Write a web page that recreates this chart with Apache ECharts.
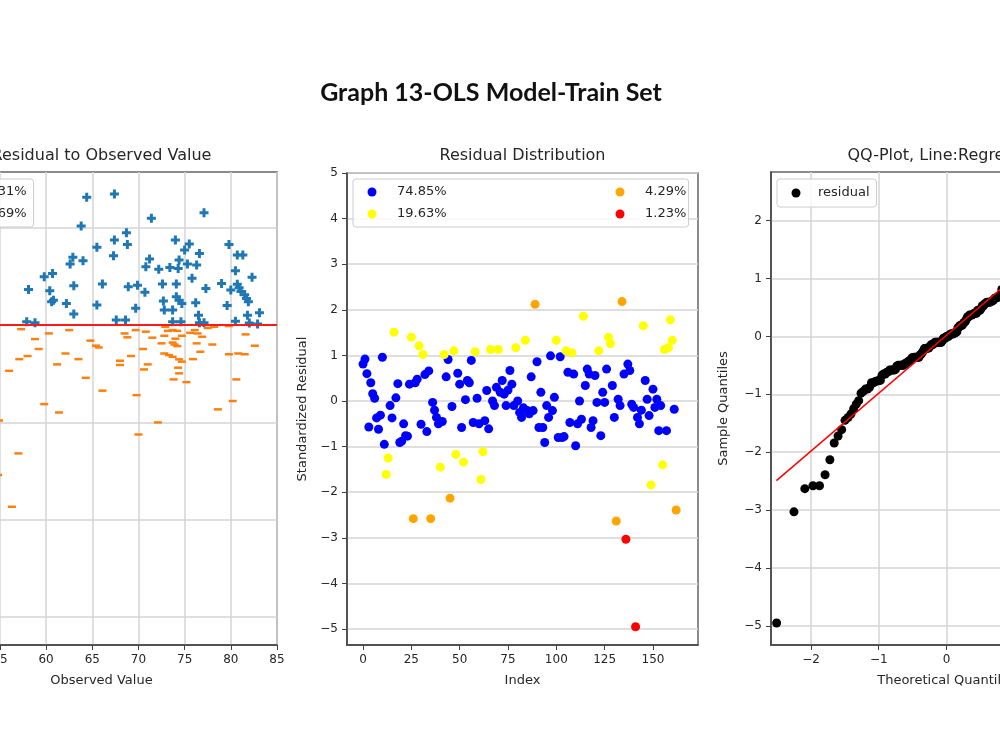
<!DOCTYPE html>
<html>
<head>
<meta charset="utf-8">
<title>Graph 13-OLS Model-Train Set</title>
<script src="https://cdn.jsdelivr.net/npm/echarts@6/dist/echarts.min.js"></script>
<style>
  html, body { margin: 0; padding: 0; width: 1000px; height: 750px; overflow: hidden; background: #fff; }
  /* the source picture is a crop: the outer panels run past both page edges */
  #chart { position: absolute; left: -150px; top: 0; width: 1300px; height: 750px; }
</style>
</head>
<body>
<div id="chart"></div>
<script>
// ---- left panel: residual vs observed value ----
const obsPos = [64.4, 67.4, 71.4, 77.1, 63.8, 68.7, 67.4, 68.8, 65.5, 67.3,
  62.9, 62.6, 64.0, 74.0, 75.5, 75.0, 76.6, 71.2, 70.8, 72.2,
  73.4, 74.4, 74.3, 75.3, 76.3, 79.8, 80.7, 81.3, 80.5, 82.3,
  58.1, 59.8, 60.7, 60.4, 60.6, 60.8, 63.0, 66.1, 68.9, 69.9,
  70.7, 72.6, 74.1, 77.3, 79.0, 80.0, 80.7, 80.9, 81.1, 81.5,
  81.7, 81.9, 62.2, 63.0, 65.5, 69.7, 72.7, 72.8, 73.7, 74.1,
  74.4, 74.7, 76.2, 76.5, 81.8, 83.1, 67.6, 68.6, 57.9, 58.8,
  73.7, 74.6, 76.6, 77.1, 80.5, 82.0, 82.9, 52.5, 50.8, 53.6,
  75.8, 79.6];
const residPos = [6.56, 6.73, 5.48, 5.77, 5.09, 4.74, 4.37, 4.14, 3.99, 3.56,
  3.48, 3.13, 3.30, 4.37, 4.16, 3.85, 3.68, 3.39, 3.00, 2.86,
  2.96, 3.34, 2.91, 3.13, 3.08, 4.14, 3.60, 3.60, 2.79, 2.45,
  1.83, 2.48, 2.65, 1.76, 1.20, 1.28, 2.02, 2.11, 1.97, 2.05,
  1.68, 2.11, 2.11, 1.88, 2.14, 1.80, 2.10, 1.92, 1.72, 1.55,
  1.37, 1.20, 1.11, 0.57, 1.03, 0.86, 1.23, 0.77, 0.77, 1.46,
  1.28, 1.11, 1.15, 0.51, 0.51, 0.63, 0.26, 0.26, 0.17, 0.12,
  0.17, 0.17, 0.12, 0.12, 0.20, 0.10, 0.05, 1.90, 3.20, 0.60,
  2.40, 1.00];
const obsNeg = [57.3, 58.8, 60.3, 62.5, 59.2, 58.0, 57.1, 56.0, 62.1, 61.2,
  63.5, 65.4, 65.7, 64.3, 66.1, 59.8, 61.4, 68.5, 68.8, 69.7,
  70.8, 69.2, 68.0, 68.0, 70.5, 71.0, 70.6, 69.8, 72.1, 70.0,
  72.5, 72.8, 72.9, 73.2, 73.7, 74.2, 74.7, 73.7, 73.9, 74.2,
  72.8, 73.3, 73.7, 74.4, 74.7, 74.3, 74.4, 73.8, 75.2, 76.1,
  76.4, 76.9, 76.3, 76.7, 75.9, 78.0, 78.2, 79.8, 78.6, 79.8,
  80.8, 81.5, 80.6, 80.2, 81.6, 82.6, 57.0, 56.3, 54.9, 54.8,
  52.0, 53.5, 51.0, 54.2, 49.5, 53.0, 75.6, 74.0, 77.5, 71.5,
  64.8];
const residNeg = [-0.21, -0.72, -0.43, -0.26, -1.23, -1.59, -1.75, -2.35, -1.46, -2.02,
  -1.75, -1.06, -1.15, -2.71, -3.37, -4.06, -4.49, -0.43, -0.63, -0.26,
  -0.34, -1.59, -1.83, -2.05, -1.23, -2.02, -2.28, -3.60, -5.00, -5.62,
  -0.94, -0.55, -0.09, -0.30, -0.26, -0.30, -0.55, -0.90, -1.00, -1.08,
  -1.46, -1.54, -1.63, -1.76, -1.88, -2.19, -2.48, -2.79, -2.93, -0.26,
  -0.43, -0.60, -0.94, -1.37, -1.75, -1.00, -0.09, -0.05, -4.33, -1.50,
  -1.46, -1.50, -2.79, -3.90, -0.48, -1.06, -6.59, -9.33, -4.90, -7.70,
  -15.0, -2.0, -3.5, -1.1, -5.8, -8.0, -0.40, -0.70, -0.15, -0.65,
  -0.80];
const leftNames = ['50.31%', '49.69%'];
const observedTicks = [50, 55, 60, 65, 70, 75, 80, 85];
const residualTicks = [-15, -10, -5, 0, 5];

// ---- middle panel: standardized residual by index ----
const stdResidual = [0.81, 0.92, 0.60, -0.57, 0.40, 0.16, 0.06, -0.37, -0.62, -0.31,
  0.96, -0.95, -1.61, -1.25, -0.10, -0.37, 1.51, 0.07, 0.38, -0.91,
  -0.88, -0.50, -0.76, -0.77, 0.37, 1.40, -2.58, 0.40, 0.48, 1.21,
  -0.51, 1.02, 0.58, -0.67, 0.66, -2.58, -0.03, -0.20, -0.36, -0.50,
  -1.45, -0.45, 1.02, 0.53, 0.91, -2.13, -0.12, 1.10, -1.17, 0.61,
  0.37, -0.58, -1.34, 0.03, 0.45, 0.40, 0.89, -0.47, 1.08, 0.06,
  -0.50, -1.72, -1.11, -0.43, 0.23, -0.61, 1.13, 0.00, -0.10, 0.30,
  1.13, 0.19, 0.45, 0.15, -0.10, 0.24, 0.67, 0.37, -0.10, 1.17,
  0.00, -0.25, -0.36, -0.15, 1.33, -0.21, -0.28, 0.53, -0.21, 2.12,
  0.86, -0.58, 0.19, -0.58, -0.91, -0.10, -0.36, 0.99, -0.21, 0.08,
  1.33, -0.80, 0.97, -0.80, -0.78, 1.10, 0.63, -0.47, 1.06, 0.59,
  -0.98, -0.50, 0.00, -0.40, 1.86, 0.34, 0.70, 0.59, -0.58, -0.43,
  0.56, -0.03, 1.10, -0.76, 0.19, -0.03, 0.70, 1.40, 1.26, 0.34,
  -0.36, -2.63, 0.04, -0.10, 2.18, 0.59, -3.03, 0.81, 0.67, -0.07,
  -0.14, -4.95, -0.36, -0.50, -0.20, 1.65, 0.45, 0.04, -0.32, -1.84,
  0.26, -0.14, 0.04, -0.65, -0.10, -1.40, 1.13, -0.65, 1.17, 1.78,
  1.33, -0.18, -2.39];
const bandNames = ['74.85%', '19.63%', '4.29%', '1.23%'];
const bandLimits = [0, 1, 2, 3, Infinity];
const indexTicks = [0, 25, 50, 75, 100, 125, 150];
const stdTicks = [-5, -4, -3, -2, -1, 0, 1, 2, 3, 4, 5];

// ---- right panel: QQ plot ----
const qqTheoretical = [-2.507, -2.251, -2.091, -1.971, -1.874, -1.792, -1.721, -1.657, -1.600, -1.547,
  -1.498, -1.452, -1.410, -1.370, -1.332, -1.296, -1.261, -1.228, -1.196, -1.165,
  -1.136, -1.107, -1.079, -1.052, -1.026, -1.000, -0.976, -0.951, -0.928, -0.904,
  -0.882, -0.859, -0.837, -0.816, -0.795, -0.774, -0.753, -0.733, -0.713, -0.694,
  -0.674, -0.655, -0.637, -0.618, -0.600, -0.581, -0.563, -0.546, -0.528, -0.510,
  -0.493, -0.476, -0.459, -0.442, -0.425, -0.408, -0.392, -0.375, -0.359, -0.343,
  -0.327, -0.311, -0.295, -0.279, -0.263, -0.247, -0.231, -0.216, -0.200, -0.184,
  -0.169, -0.153, -0.138, -0.123, -0.107, -0.092, -0.077, -0.061, -0.046, -0.031,
  -0.015, 0.000, 0.015, 0.031, 0.046, 0.061, 0.077, 0.092, 0.107, 0.123,
  0.138, 0.153, 0.169, 0.184, 0.200, 0.216, 0.231, 0.247, 0.263, 0.279,
  0.295, 0.311, 0.327, 0.343, 0.359, 0.375, 0.392, 0.408, 0.425, 0.442,
  0.459, 0.476, 0.493, 0.510, 0.528, 0.546, 0.563, 0.581, 0.600, 0.618,
  0.637, 0.655, 0.674, 0.694, 0.713, 0.733, 0.753, 0.774, 0.795, 0.816,
  0.837, 0.859, 0.882, 0.904, 0.928, 0.951, 0.976, 1.000, 1.026, 1.052,
  1.079, 1.107, 1.136, 1.165, 1.196, 1.228, 1.261, 1.296, 1.332, 1.370,
  1.410, 1.452, 1.498, 1.547, 1.600, 1.657, 1.721, 1.792, 1.874, 1.971,
  2.091, 2.251, 2.507];
const qqLineX = [-2.51, 2.51];
const qqLineY = [-2.49, 2.53];
const theoTicks = [-2, -1, 0, 1, 2];
const sampleTicks = [-5, -4, -3, -2, -1, 0, 1, 2];

const PLUS = 'path://M3,0H6V3H9V6H6V9H3V6H0V3H3Z';
const FONT = 'DejaVu Sans';
const TXT = '#262626';

// sample quantiles are just the sorted residuals
const qqSample = stdResidual.slice().sort((a, b) => a - b);
const bandSets = bandNames.map((_, b) =>
  stdResidual.map((v, i) => [i, v]).filter(p =>
    Math.abs(p[1]) >= bandLimits[b] && Math.abs(p[1]) < bandLimits[b + 1]));

function minusSign(v) {
  return String(v).replace('-', '\u2212');
}

function makeAxis(gridIndex, min, max, step, ticks, name, nameGap, showGrid) {
  return {
    type: 'value', gridIndex, min, max, minInterval: step, maxInterval: step,
    name, nameLocation: 'middle', nameGap,
    nameTextStyle: { color: TXT, fontSize: 13, fontFamily: FONT },
    axisLine: { show: true, onZero: false, lineStyle: { color: '#404040', width: 1.5 } },
    axisTick: { show: true, length: 5, customValues: ticks, lineStyle: { color: '#404040' } },
    axisLabel: { customValues: ticks, color: TXT, fontSize: 12, fontFamily: FONT, margin: 9, formatter: minusSign },
    splitLine: { show: showGrid, lineStyle: { color: '#d4d4d4', width: 1.5 } }
  };
}

function panelTitle(text, cx) {
  return { text, left: cx, top: 148, textAlign: 'center', padding: 0,
    textStyle: { color: TXT, fontSize: 16, fontWeight: 'normal', fontFamily: FONT } };
}

const legendBox = { borderColor: '#cccccc', borderWidth: 1, borderRadius: 3, backgroundColor: 'rgba(255,255,255,0.85)' };
const legendText = { color: TXT, fontSize: 13, fontFamily: FONT };

const chart = echarts.init(document.getElementById('chart'));

chart.setOption({
  animation: false,
  title: [
    { text: 'Graph 13-OLS Model-Train Set', left: 641, top: 80, textAlign: 'center', padding: 0,
      textStyle: { color: '#111', fontSize: 25, fontWeight: 'bold', fontFamily: 'Lato' } },
    panelTitle('Residual to Observed Value', 251.5),
    panelTitle('Residual Distribution', 672.5),
    panelTitle('QQ-Plot, Line:Regression', 1096.5)
  ],
  grid: [
    { left: 76, top: 172, width: 351, height: 473, show: true, borderColor: '#666', borderWidth: 1.5 },
    { left: 497, top: 173, width: 351, height: 472, show: true, borderColor: '#666', borderWidth: 1.5 },
    { left: 921, top: 172, width: 351, height: 473, show: true, borderColor: '#666', borderWidth: 1.5 }
  ],
  xAxis: [
    makeAxis(0, 47, 85, 5, observedTicks, 'Observed Value', 29, true),
    makeAxis(1, -8.3, 173.3, 25, indexTicks, 'Index', 29, false),
    makeAxis(2, -2.59, 2.59, 1, theoTicks, 'Theoretical Quantiles', 29, true)
  ],
  yAxis: [
    makeAxis(0, -16.43, 7.86, 5, residualTicks, 'Residual', 38, true),
    makeAxis(1, -5.35, 5, 1, stdTicks, 'Standardized Residual', 38, true),
    makeAxis(2, -5.33, 2.84, 1, sampleTicks, 'Sample Quantiles', 41, true)
  ],
  legend: [
    { data: [{ name: leftNames[0], icon: PLUS }, { name: leftNames[1], icon: 'rect' }],
      orient: 'vertical', left: 102, top: 179, itemWidth: 14, itemHeight: 9, itemGap: 9,
      padding: [6.5, 7, 6.5, 6], selectedMode: false, textStyle: legendText, ...legendBox },
    { data: [bandNames[0], bandNames[1]], icon: 'circle',
      orient: 'vertical', left: 503, top: 179, itemWidth: 40, itemHeight: 9, itemGap: 9,
      padding: [6.5, 242, 6.5, 14.5], selectedMode: false, textStyle: legendText, ...legendBox },
    { data: [bandNames[2], bandNames[3]], icon: 'circle', z: 5,
      orient: 'vertical', left: 765.5, top: 185.5, itemWidth: 40, itemHeight: 9, itemGap: 9,
      padding: 0, selectedMode: false, textStyle: legendText },
    { data: ['residual'], icon: 'circle',
      orient: 'vertical', left: 927, top: 179, itemWidth: 34, itemHeight: 9,
      padding: [7.5, 7, 7.5, 14.5], selectedMode: false, textStyle: legendText, ...legendBox }
  ],
  series: [
    { type: 'scatter', name: leftNames[0], xAxisIndex: 0, yAxisIndex: 0,
      data: obsPos.map((x, i) => [x, residPos[i]]),
      symbol: PLUS, symbolSize: 9, itemStyle: { color: '#1f77b4', opacity: 1 },
      markLine: { silent: true, symbol: 'none', label: { show: false }, animation: false,
        lineStyle: { color: '#ff1a1a', width: 2, type: 'solid' }, data: [{ yAxis: 0 }] } },
    { type: 'scatter', name: leftNames[1], xAxisIndex: 0, yAxisIndex: 0,
      data: obsNeg.map((x, i) => [x, residNeg[i]]),
      symbol: 'rect', symbolSize: [8, 2.5], itemStyle: { color: '#ff7f0e', opacity: 1 } },
    ...bandSets.map((set, b) => ({
      type: 'scatter', name: bandNames[b], xAxisIndex: 1, yAxisIndex: 1,
      data: set, symbolSize: 9,
      itemStyle: { color: ['#0000ff', '#ffff00', '#ffa500', '#ff0000'][b], opacity: 1 }
    })),
    { type: 'scatter', name: 'residual', xAxisIndex: 2, yAxisIndex: 2,
      data: qqTheoretical.map((x, i) => [x, qqSample[i]]),
      symbolSize: 9, itemStyle: { color: '#000000', opacity: 1 } },
    { type: 'line', name: 'fit', xAxisIndex: 2, yAxisIndex: 2, z: 5,
      data: qqLineX.map((x, i) => [x, qqLineY[i]]),
      showSymbol: false, lineStyle: { color: '#ff0000', width: 1.5 } }
  ]
});
</script>
</body>
</html>
